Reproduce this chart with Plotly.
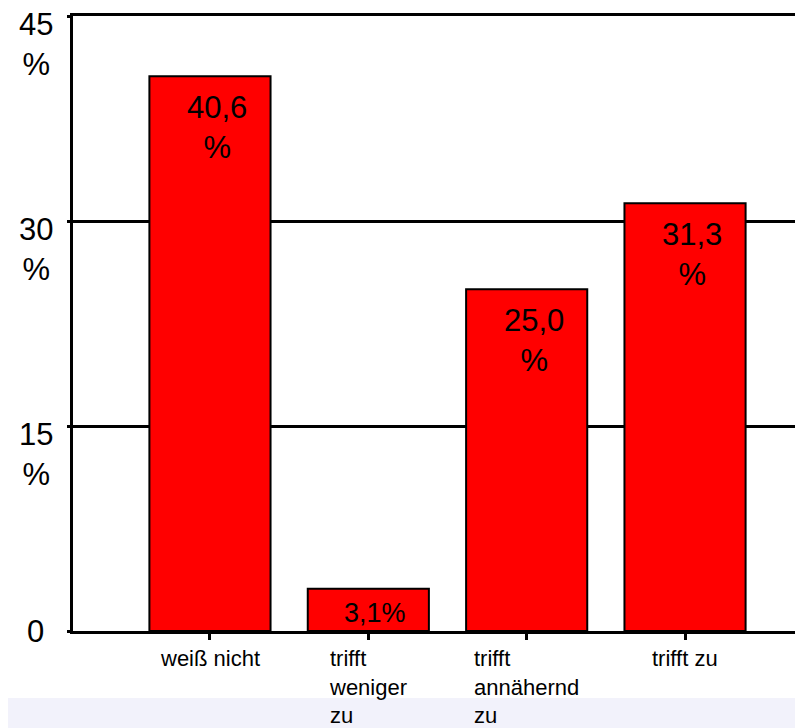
import plotly.graph_objects as go

categories = ["weiß nicht", "trifft<br>weniger<br>zu", "trifft<br>annähernd<br>zu", "trifft zu"]
values = [40.6, 3.1, 25.0, 31.3]
bar_labels = ["40,6<br>%", "3,1%", "25,0<br>%", "31,3<br>%"]
y_tick_vals = [0, 15, 30, 45]
y_tick_text = ["0", "15<br>%", "30<br>%", "45<br>%"]

FONT = "Liberation Sans, Arial, sans-serif"
xs = list(range(len(categories)))

fig = go.Figure()
fig.add_trace(go.Bar(
    x=xs, y=values, width=0.765,
    marker=dict(color="#FF0000", line=dict(color="black", width=2)),
    hoverinfo="skip",
))

annotations = []
for x, v, t in zip(xs, values, bar_labels):
    two_line = "<br>" in t
    annotations.append(dict(
        x=x, y=v, xref="x", yref="y", text=t, showarrow=False,
        xanchor="center", yanchor="top", xshift=7, yshift=-12 if two_line else -7,
        font=dict(family=FONT, size=31 if two_line else 27, color="black"),
    ))
for x, c in zip(xs, categories):
    annotations.append(dict(
        x=x, y=0, xref="x", yref="y", text=c, showarrow=False,
        xanchor="center", yanchor="top", align="left", yshift=-13,
        font=dict(family=FONT, size=22, color="black"),
    ))
for v, t in zip(y_tick_vals, y_tick_text):
    two_line = "<br>" in t
    annotations.append(dict(
        x=-0.0507, y=v, xref="paper", yref="y", text=t, showarrow=False,
        xanchor="center", yanchor="top" if two_line else "middle",
        align="center", yshift=11 if two_line else 0,
        font=dict(family=FONT, size=31, color="black"),
    ))

fig.update_layout(
    width=795, height=720,
    margin=dict(l=65, r=0, t=8, b=97),
    paper_bgcolor="white", plot_bgcolor="white",
    showlegend=False,
    annotations=annotations,
    shapes=[dict(type="rect", xref="paper", yref="paper", x0=-0.2, x1=1.1,
                 y0=-0.2, y1=-0.109, fillcolor="#F2F2FB", line=dict(width=0),
                 layer="below")],
    xaxis=dict(range=[-0.865, 3.745], showgrid=False, zeroline=False,
               showline=True, linecolor="black", linewidth=3, mirror=True,
               tickvals=xs, ticktext=["" for _ in xs], ticks="outside",
               ticklen=6, tickwidth=3, tickcolor="black", fixedrange=True),
    yaxis=dict(range=[0, 45], showgrid=True, gridcolor="black", gridwidth=3,
               zeroline=False, showline=True, linecolor="black", linewidth=3,
               tickvals=y_tick_vals, ticktext=["" for _ in y_tick_vals],
               ticks="outside", ticklen=3, tickwidth=3, tickcolor="black",
               fixedrange=True),
)

fig.write_html("out.html")
